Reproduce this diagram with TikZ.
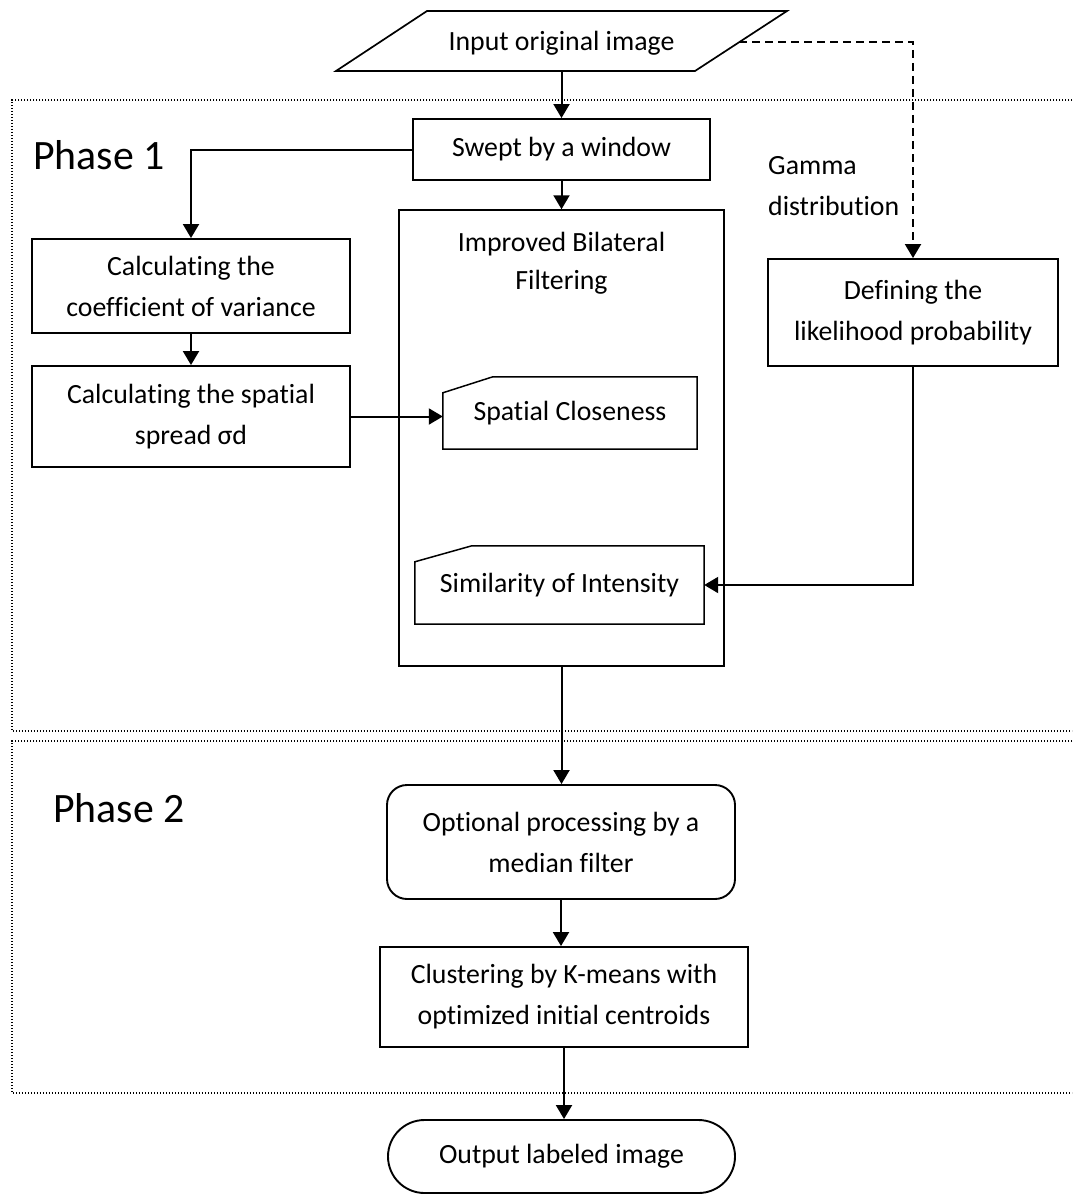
\documentclass[tikz,border=0pt]{standalone}
\usepackage{fontspec}
\setmainfont{Carlito}[Ligatures=NoCommon]
\usetikzlibrary{arrows.meta,shapes.misc,calc}
\begin{document}
\begin{tikzpicture}[x=1pt,y=-1pt,
  txt/.style={font=\fontsize{27.8}{41}\selectfont, align=center, inner sep=0pt},
  box/.style={txt, draw, line width=1.9pt},
  thinbox/.style={txt, draw, line width=1.5pt},
  conn/.style={line width=2pt, -{Triangle[length=14pt,width=16pt]}},
  dashconn/.style={line width=2pt, dash pattern=on 8pt off 5pt, -{Triangle[length=14pt,width=16pt]}},
  phasebox/.style={line width=1.4pt, dash pattern=on 1.4pt off 1.6pt},
  phaselabel/.style={font=\fontsize{41.8}{48}\selectfont, anchor=base west, inner sep=0pt}
]
\clip (0,0) rectangle (1072,1196);
\fill[white] (0,0) rectangle (1072,1196);

% phase frames
\draw[phasebox] (1090,100) -- (12,100) -- (12,731) -- (1090,731);
\draw[phasebox] (1090,741) -- (12,741) -- (12,1093) -- (1090,1093);
\node[phaselabel] (ph1) at (33,169) {Phase 1};
\node[phaselabel] (ph2) at (53,822) {Phase 2};

% input parallelogram
\coordinate (p1) at (336,71);
\coordinate (p2) at (427,11);
\coordinate (p3) at (787,11);
\coordinate (p4) at (695,71);
\draw[line width=1.7pt] (p1) -- (p2) -- (p3) -- (p4) -- cycle;
\node[txt] (inp) at (561.5,43) {Input original image};
\coordinate (inpb) at (561.5,71);
\coordinate (inpr) at (739,42);

% boxes
\node[box, minimum width=297pt, minimum height=61pt] (swept) at (561.5,149.5) {Swept by a window};
\node[box, minimum width=318pt, minimum height=94pt] (coeff) at (191,286) {Calculating the\\coefficient of variance};
\node[box, minimum width=318pt, minimum height=101pt] (spread) at (191,416.5) {Calculating the spatial\\spread σd};
\node[thinbox, minimum width=325pt, minimum height=456pt] (bil) at (561.5,438) {};
\node[txt, anchor=base, font=\fontsize{27.8}{38}\selectfont] (biltitle) at (561.5,289) {Improved Bilateral\\Filtering};
\node[box, minimum width=290pt, minimum height=107pt] (likeli) at (913,312.5) {Defining the\\likelihood probability};
\node[txt, anchor=base west, align=left] (gamma) at (768,215) {Gamma\\distribution};

% card shapes
\node[txt, minimum width=254pt, minimum height=72pt] (sc) at (570,413) {Spatial Closeness};
\draw[line width=1.5pt] ($(sc.north west)+(0,16)$) -- ($(sc.north west)+(50,0)$) -- (sc.north east) -- (sc.south east) -- (sc.south west) -- cycle;
\node[txt, minimum width=289pt, minimum height=78pt] (sim) at (559.5,585) {Similarity of Intensity};
\draw[line width=1.5pt] ($(sim.north west)+(0,16)$) -- ($(sim.north west)+(57,0)$) -- (sim.north east) -- (sim.south east) -- (sim.south west) -- cycle;

% phase 2
\node[box, rounded corners=20pt, minimum width=348pt, minimum height=114pt] (opt) at (561,842) {Optional processing by a\\median filter};
\node[box, minimum width=368pt, minimum height=100pt] (km) at (564,997) {Clustering by K-means with\\optimized initial centroids};
\node[box, rounded rectangle, minimum width=347pt, minimum height=73pt] (out) at (561.5,1156.5) {Output labeled image};

% connectors
\draw[conn] (inpb) -- (swept.north);
\draw[conn] (swept.west) -| (coeff.north);
\draw[conn] (coeff.south) -- (spread.north);
\draw[conn] (swept.south) -- (bil.north);
\draw[conn] (spread.east) -- (spread.east -| sc.west);
\draw[dashconn] (inpr) -| (likeli.north);
\draw[conn] (likeli.south) |- (sim.east);
\draw[conn] (bil.south) -- (bil.south |- opt.north);
\draw[conn] (opt.south) -- (opt.south |- km.north);
\draw[conn] (km.south) -- (km.south |- out.north);
\end{tikzpicture}
\end{document}
